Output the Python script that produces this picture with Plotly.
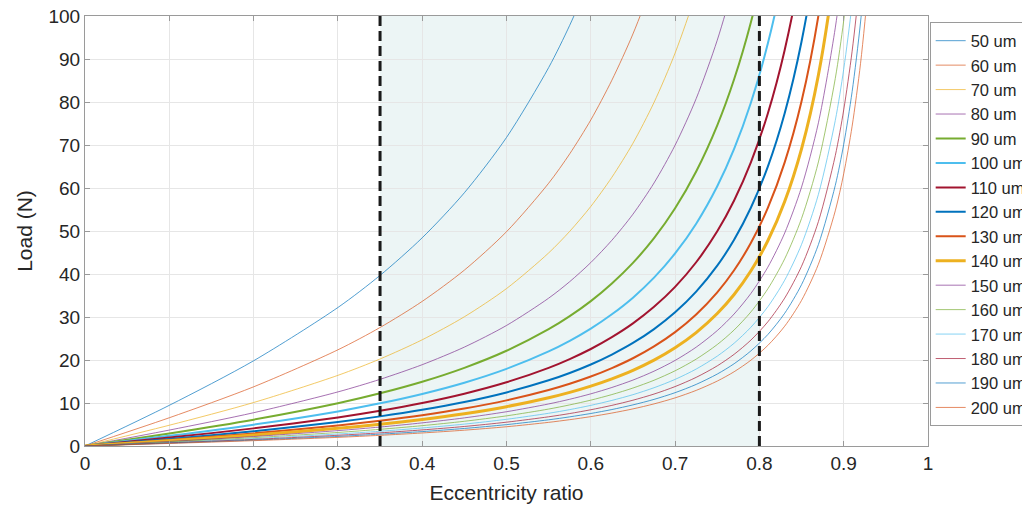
import plotly.graph_objects as go

# Eccentricity ratio sample points
ecc = [0, 0.1, 0.2, 0.3, 0.35, 0.4, 0.45, 0.5, 0.55, 0.575, 0.6, 0.625, 0.65, 0.675,
       0.7, 0.725, 0.75, 0.77, 0.79, 0.81, 0.83, 0.85, 0.87, 0.89, 0.9, 0.91, 0.92, 0.93, 0.94]

# Load (N), one list per radial clearance
load_50 = [0, 9.46, 19.82, 32.21, 39.68, 48.42, 58.89, 71.75, 88.0, 97.85, 109.2, 122.5]
load_60 = [0, 6.57, 13.76, 22.37, 27.56, 33.63, 40.90, 49.83, 61.11, 67.95, 75.83, 85.07, 95.83, 108.75, 124.38]
load_70 = [0, 4.83, 10.11, 16.43, 20.24, 24.70, 30.05, 36.61, 44.90, 49.92, 55.71, 62.50, 70.41, 79.90, 91.38, 105.51, 123.27]
load_80 = [0, 3.70, 7.74, 12.58, 15.50, 18.91, 23.00, 28.03, 34.38, 38.22, 42.66, 47.85, 53.91, 61.17, 69.96, 80.78, 94.38, 107.93, 124.80]
load_90 = [0, 2.92, 6.12, 9.94, 12.25, 14.94, 18.18, 22.15, 27.16, 30.20, 33.70, 37.81, 42.59, 48.33, 55.28, 63.83, 74.57, 85.28, 98.61, 115.52, 137.59]
load_100 = [0, 2.37, 4.96, 8.05, 9.92, 12.11, 14.72, 17.94, 22.0, 24.46, 27.3, 30.63, 34.5, 39.15, 44.78, 51.7, 60.4, 69.08, 79.88, 93.58, 111.45, 135.48]
load_110 = [0, 1.95, 4.10, 6.65, 8.20, 10.00, 12.17, 14.82, 18.18, 20.22, 22.56, 25.31, 28.51, 32.36, 37.00, 42.73, 49.92, 57.09, 66.01, 77.34, 92.11, 111.96, 139.77]
load_120 = [0, 1.64, 3.44, 5.59, 6.89, 8.41, 10.22, 12.46, 15.28, 16.99, 18.96, 21.27, 23.96, 27.19, 31.09, 35.90, 41.94, 47.97, 55.47, 64.98, 77.40, 94.08, 117.45, 151.93]
load_130 = [0, 1.40, 2.93, 4.76, 5.87, 7.16, 8.71, 10.61, 13.02, 14.47, 16.15, 18.12, 20.41, 23.17, 26.49, 30.59, 35.74, 40.87, 47.26, 55.37, 65.95, 80.16, 100.07, 129.45, 149.82]
load_140 = [0, 1.21, 2.53, 4.11, 5.06, 6.18, 7.51, 9.15, 11.22, 12.48, 13.93, 15.63, 17.60, 19.97, 22.84, 26.38, 30.82, 35.24, 40.75, 47.74, 56.86, 69.12, 86.29, 111.62, 129.18]
load_150 = [0, 1.05, 2.20, 3.58, 4.41, 5.38, 6.54, 7.97, 9.78, 10.87, 12.13, 13.61, 15.33, 17.40, 19.90, 22.98, 26.84, 30.70, 35.50, 41.59, 49.53, 60.21, 75.17, 97.23, 112.53, 132.22]
load_160 = [0, 0.92, 1.94, 3.15, 3.88, 4.73, 5.75, 7.01, 8.59, 9.56, 10.66, 11.96, 13.48, 15.29, 17.49, 20.20, 23.59, 26.98, 31.20, 36.55, 43.53, 52.92, 66.06, 85.46, 98.91, 116.21, 139.06]
load_170 = [0, 0.82, 1.71, 2.79, 3.43, 4.19, 5.09, 6.21, 7.61, 8.46, 9.45, 10.60, 11.94, 13.55, 15.49, 17.89, 20.90, 23.90, 27.64, 32.38, 38.56, 46.88, 58.52, 75.70, 87.61, 102.94, 123.18]
load_180 = [0, 0.73, 1.53, 2.49, 3.06, 3.74, 4.54, 5.54, 6.79, 7.55, 8.43, 9.45, 10.65, 12.08, 13.82, 15.96, 18.64, 21.32, 24.65, 28.88, 34.40, 41.81, 52.20, 67.52, 78.15, 91.82, 109.88, 134.64]
load_190 = [0, 0.66, 1.37, 2.23, 2.75, 3.35, 4.08, 4.97, 6.09, 6.78, 7.56, 8.48, 9.56, 10.84, 12.40, 14.32, 16.73, 19.13, 22.13, 25.92, 30.87, 37.53, 46.85, 60.60, 70.14, 82.41, 98.61, 120.84, 152.77]
load_200 = [0, 0.59, 1.24, 2.01, 2.48, 3.03, 3.68, 4.48, 5.50, 6.12, 6.83, 7.66, 8.63, 9.79, 11.19, 12.93, 15.10, 17.27, 19.97, 23.39, 27.86, 33.87, 42.28, 54.69, 63.30, 74.38, 89.00, 109.06, 137.88]

clearances = [50, 60, 70, 80, 90, 100, 110, 120, 130, 140, 150, 160, 170, 180, 190, 200]
loads = [load_50, load_60, load_70, load_80, load_90, load_100, load_110, load_120,
         load_130, load_140, load_150, load_160, load_170, load_180, load_190, load_200]

# Recommended operating window (eccentricity ratio)
window = [0.35, 0.8]

palette = ["#0072BD", "#D95319", "#EDB120", "#7E2F8E", "#77AC30", "#4DBEEE", "#A2142F"]
widths = {90: 2.0, 100: 2.0, 110: 2.0, 120: 2.0, 130: 2.0, 140: 3.0}

FONT = "Arial, Liberation Sans, sans-serif"

fig = go.Figure()
for i, (c, ys) in enumerate(zip(clearances, loads)):
    w = widths.get(c, 0.8)
    fig.add_trace(go.Scatter(
        x=ecc[:len(ys)], y=ys, mode="lines", name=f"{c} um",
        line=dict(color=palette[i % 7], width=w, shape="spline", smoothing=0.8),
        opacity=1.0 if c in widths else 0.85,
    ))

fig.add_shape(type="rect", xref="x", yref="paper", x0=window[0], x1=window[1], y0=0, y1=1,
              fillcolor="rgb(236,245,245)", line_width=0, layer="below")
for xv in window:
    fig.add_shape(type="line", xref="x", yref="paper", x0=xv, x1=xv, y0=0, y1=1,
                  line=dict(color="#1a1a1a", width=3, dash="10px,5px"), layer="above")

axis_common = dict(
    showgrid=True, gridcolor="#E6E6E6", gridwidth=1,
    showline=True, linecolor="#9a9a9a", linewidth=1, mirror="ticks",
    ticks="inside", ticklen=5, tickcolor="#9a9a9a",
    zeroline=False, ticklabeloverflow="allow",
    tickfont=dict(family=FONT, size=19, color="#262626"),
)

fig.update_xaxes(range=[0, 1], tick0=0, dtick=0.1,
                 title=dict(text="Eccentricity ratio", font=dict(family=FONT, size=21, color="#262626"), standoff=12),
                 **axis_common)
fig.update_yaxes(range=[0, 100], tick0=0, dtick=10,
                 title=dict(text="Load (N)", font=dict(family=FONT, size=21, color="#262626"), standoff=10),
                 **axis_common)

fig.update_layout(
    width=1022, height=509,
    margin=dict(l=85, r=94, t=16, b=63, autoexpand=False),
    paper_bgcolor="white", plot_bgcolor="white",
    legend=dict(x=1.002, y=0.985, xanchor="left", yanchor="top",
                bgcolor="white", bordercolor="#9a9a9a", borderwidth=1,
                font=dict(family=FONT, size=16.5, color="#262626"),
                tracegroupgap=0),
    showlegend=True,
)

fig.write_html("out.html", config={"displayModeBar": False},
               post_script="document.body.style.margin='0px';document.body.style.overflow='hidden';")
